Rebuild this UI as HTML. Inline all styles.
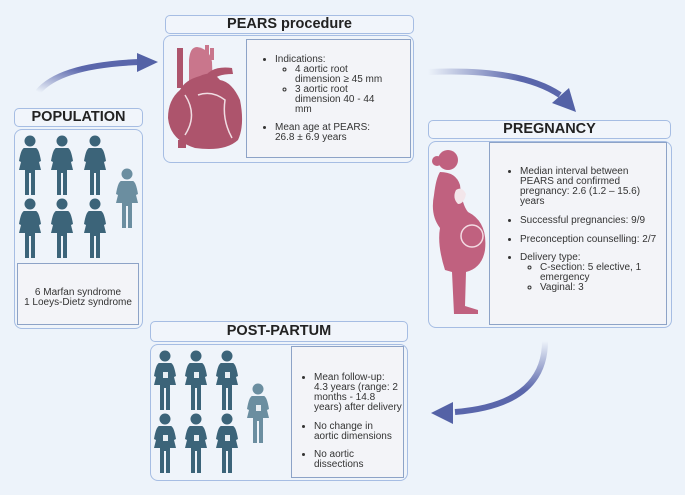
<!DOCTYPE html>
<html><head><meta charset="utf-8"><style>
*{margin:0;padding:0;box-sizing:border-box}
body{width:685px;height:495px;background:#edf3fa;position:relative;overflow:hidden;font-family:"Liberation Sans",sans-serif;color:#222}
.t{position:absolute;border:1.5px solid #a6bde3;border-radius:5px;background:#f1f5fb;text-align:center;font-weight:bold;font-size:14.5px;line-height:16px}
.c{position:absolute;border:1.5px solid #a6bde3;border-radius:8px;background:#eff4fa}
.b{position:absolute;border:1px solid #8da3c7;background:#f3f4f8;font-size:10px;line-height:9.9px;color:#333;white-space:nowrap}
ul{padding-left:18px}ul ul{list-style:circle;padding-left:20px}
li{margin:0}
.sp{margin-top:9px}
svg{position:absolute;left:0;top:0}
</style></head><body>
<div class="t" style="left:165px;top:15px;width:249px;height:19px">PEARS procedure</div>
<div class="c" style="left:163px;top:35px;width:251px;height:128px"></div>
<div class="b" style="left:246px;top:39px;width:165px;height:119px;padding:15px 0 0 10px"><ul><li>Indications:<ul><li>4 aortic root<br>dimension ≥ 45 mm</li><li>3 aortic root<br>dimension 40 - 44<br>mm</li></ul></li><li class="sp">Mean age at PEARS:<br>26.8 ± 6.9 years</li></ul></div>

<div class="t" style="left:14px;top:108px;width:129px;height:19px">POPULATION</div>
<div class="c" style="left:14px;top:129px;width:129px;height:200px"></div>
<div class="b" style="left:17px;top:263px;width:122px;height:62px;text-align:center;padding-top:24px">6 Marfan syndrome<br>1 Loeys-Dietz syndrome</div>

<div class="t" style="left:428px;top:120px;width:243px;height:19px">PREGNANCY</div>
<div class="c" style="left:428px;top:141px;width:244px;height:187px"></div>
<div class="b" style="left:489px;top:142px;width:178px;height:183px;padding:24px 0 0 12px"><ul><li>Median interval between<br>PEARS and confirmed<br>pregnancy: 2.6 (1.2 – 15.6)<br>years</li><li class="sp">Successful pregnancies: 9/9</li><li class="sp">Preconception counselling: 2/7</li><li class="sp">Delivery type:<ul><li>C-section: 5 elective, 1<br>emergency</li><li>Vaginal: 3</li></ul></li></ul></div>

<div class="t" style="left:150px;top:321px;width:258px;height:21px;line-height:19px">POST-PARTUM</div>
<div class="c" style="left:150px;top:344px;width:258px;height:137px"></div>
<div class="b" style="left:291px;top:346px;width:113px;height:132px;padding:26px 0 0 6px"><ul style="padding-left:16px"><li>Mean follow-up:<br>4.3 years (range: 2<br>months - 14.8<br>years) after delivery</li><li class="sp">No change in<br>aortic dimensions</li><li class="sp">No aortic<br>dissections</li></ul></div>

<svg width="685" height="495" viewBox="0 0 685 495">
<defs>
<linearGradient id="g1" x1="0" y1="1" x2="1" y2="0"><stop offset="0" stop-color="#edf3fa"/><stop offset="0.6" stop-color="#5a66ab"/></linearGradient>
<linearGradient id="g2" x1="0" y1="0" x2="1" y2="0"><stop offset="0" stop-color="#edf3fa"/><stop offset="0.7" stop-color="#5a66ab"/></linearGradient>
<linearGradient id="g3" x1="0" y1="0" x2="0" y2="1"><stop offset="0" stop-color="#edf3fa"/><stop offset="0.7" stop-color="#5a66ab"/></linearGradient>
<g id="w"><circle cx="13" cy="6" r="5.5"/><path d="M7 13 H19 Q22 14 24 26 L22 27 L20 19 L24 35 H18 V60 H14 V38 H12 V60 H8 V35 H2 L6 19 L4 27 L2 26 Q4 14 7 13Z"/></g>
<g id="wh"><use href="#w"/><path d="M11 22 h5 v6 h-5z" fill="#e8eef3"/></g>
</defs>
<path d="M38 92 Q60 65 140 62" stroke="url(#g1)" stroke-width="6" fill="none"/>
<path d="M137 53 L158 62 L137 72Z" fill="#5462a6"/>
<path d="M428 72 Q520 68 560 95" stroke="url(#g2)" stroke-width="6" fill="none"/>
<path d="M552 103 L576 112 L569 88Z" fill="#5462a6"/>
<path d="M545 341 Q545 405 455 412" stroke="url(#g3)" stroke-width="6" fill="none"/>
<path d="M453 402 L431 413 L453 424Z" fill="#5462a6"/>
<g fill="#3c6479">
<use href="#w" x="17" y="135"/><use href="#w" x="49" y="135"/><use href="#w" x="82" y="135"/>
<use href="#w" x="17" y="198"/><use href="#w" x="49" y="198"/><use href="#w" x="82" y="198"/>
<use href="#wh" x="152" y="350"/><use href="#wh" x="183" y="350"/><use href="#wh" x="214" y="350"/>
<use href="#wh" x="152" y="413"/><use href="#wh" x="183" y="413"/><use href="#wh" x="214" y="413"/>
</g>
<g fill="#6b8ea0"><use href="#w" x="114" y="168"/><use href="#wh" x="245" y="383"/></g>
<g fill="#ad546c">
<path d="M177 48 h6 v40 h-6z"/>
<path d="M189 60 Q190 47 197 47 Q210 49 212 62 L213 90 L189 92Z" fill="#c9768c"/>
<path d="M205 45 h4 v15 h-4z M210 48 h4 v12 h-4z" fill="#c9768c"/>
<path d="M180 90 Q168 100 168 118 Q170 140 195 148 Q225 152 238 140 Q245 125 240 100 Q232 82 220 80 Q212 70 200 76 Q185 80 180 90Z"/>
<path d="M203 80 Q210 65 232 68 L233 74 Q215 74 212 82Z"/>
<path d="M178 140 h8 v8 h-8z"/>
</g>
<path d="M185 95 Q198 115 185 135 M198 95 Q212 90 225 100 Q222 120 232 138" stroke="#f0dde3" stroke-width="1.5" fill="none"/>
<g fill="#c0617f">
<circle cx="448" cy="160" r="10"/><circle cx="437" cy="161" r="5"/>
<path d="M440 172 Q456 172 460 185 Q462 205 468 212 Q488 222 485 250 Q482 268 466 272 L465 306 L478 310 L478 314 L454 314 L452 272 L445 270 Q437 245 440 228 Q430 215 434 195 Q436 178 440 172Z"/>
</g>
<circle cx="472" cy="236" r="11" fill="none" stroke="#f3dbe3" stroke-width="1.5"/>
<path d="M456 190 q6 -4 10 4 q-2 10 -8 10 q-6 -6 -2 -14z" fill="#f3e6ea"/>
</svg>
</body></html>
